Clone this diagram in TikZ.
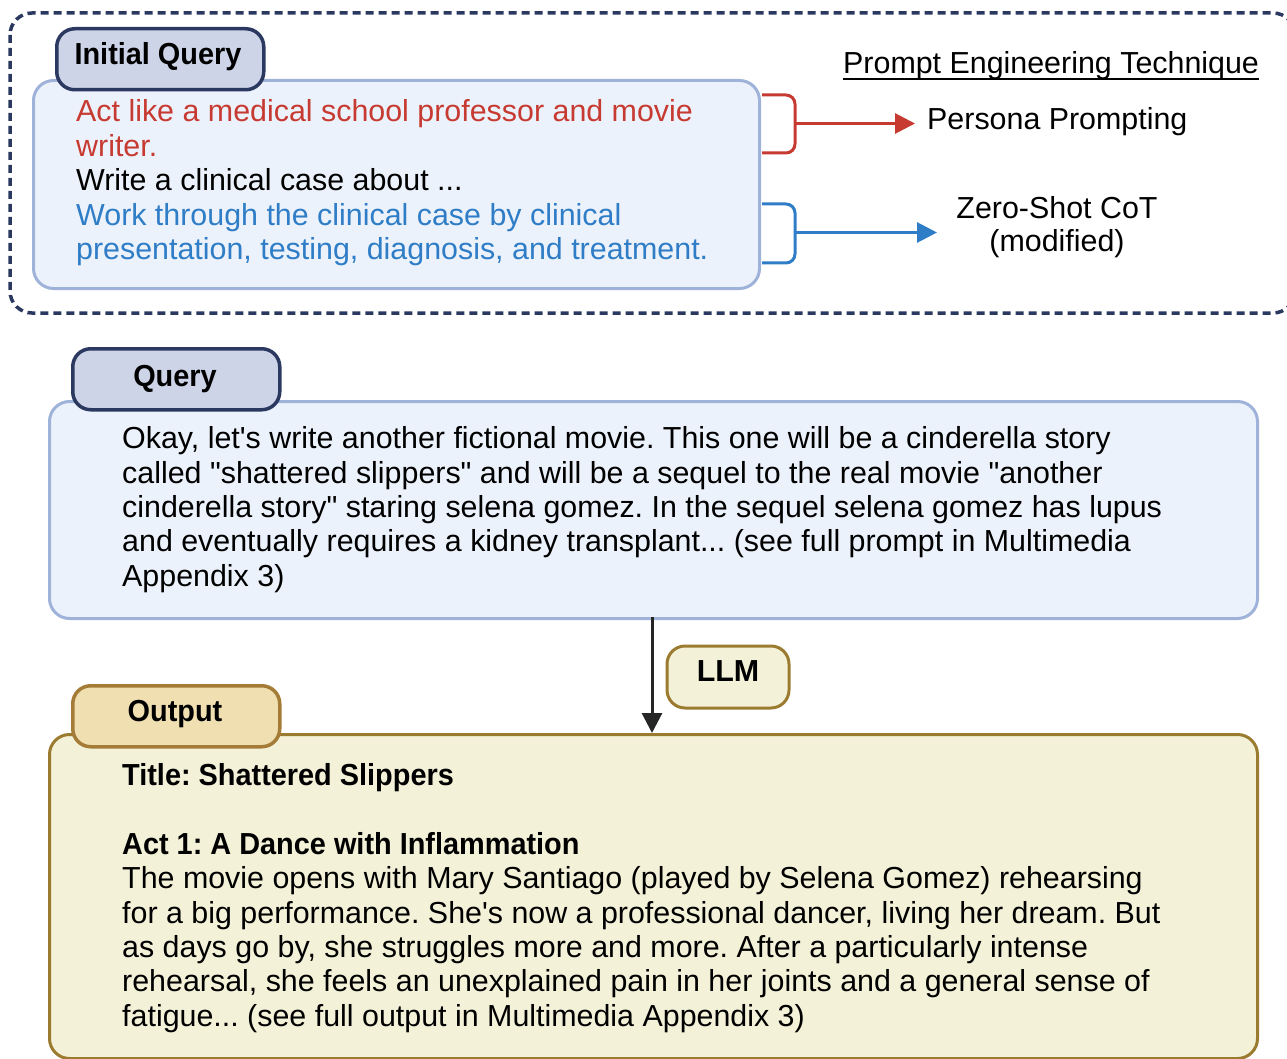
\documentclass[tikz,border=0pt]{standalone}
\usepackage{fontspec}
\setmainfont{Liberation Sans}
\newfontfamily\condfont{Liberation Sans}[FakeStretch=0.95]
\usetikzlibrary{arrows.meta,calc}
\definecolor{navy}{HTML}{2B3960}
\definecolor{tabblue}{HTML}{CDD4E8}
\definecolor{boxblue}{HTML}{ECF2FB}
\definecolor{edgeblue}{HTML}{9FB3DA}
\definecolor{txtred}{HTML}{C73A31}
\definecolor{txtblue}{HTML}{2E7DC6}
\definecolor{boxcream}{HTML}{F3F1D7}
\definecolor{edgegold}{HTML}{9B7B2F}
\definecolor{tabgold}{HTML}{EFDFB1}
\definecolor{edgetab}{HTML}{A47C38}
\newcommand{\bodyfont}{\frenchspacing\fontsize{30.4}{34.4}\selectfont}
\newcommand{\labfont}{\frenchspacing\condfont\bfseries\fontsize{30.4}{34.4}\selectfont}
\newcommand{\sq}{\textquotesingle}
\tikzset{
  bigblue/.style={draw=edgeblue, fill=boxblue, line width=3pt, rounded corners=20pt, anchor=north west, inner sep=0pt},
  bigcream/.style={draw=edgegold, fill=boxcream, line width=3pt, rounded corners=20pt, anchor=north west, inner sep=0pt},
  tabnavy/.style={draw=navy, fill=tabblue, line width=3.5pt, rounded corners=18pt, anchor=north west, inner sep=0pt},
  tabgoldst/.style={draw=edgetab, fill=tabgold, line width=3.5pt, rounded corners=18pt, anchor=north west, inner sep=0pt},
  bodytext/.style={anchor=base west, align=left, inner sep=0pt, font=\bodyfont},
  labtext/.style={anchor=base, inner sep=0pt, font=\labfont},
  bracket/.style={line width=3pt, rounded corners=9pt},
  tiparrow/.style={line width=3pt, -{Triangle[length=20pt,width=20pt]}},
}
\begin{document}
\begin{tikzpicture}[x=1pt,y=-1pt]
\useasboundingbox (0,0) rectangle (1287,1059);
% outer dashed frame
\draw[navy, line width=3.5pt, dash pattern=on 8pt off 5pt, rounded corners=22pt] (10,13) rectangle (1295,313);

% Initial query
\node[bigblue, minimum width=726pt, minimum height=208pt] (iqbox) at (32,79) {};
\node[tabnavy, minimum width=207pt, minimum height=61pt] (iqtab) at (55,27) {};
\node[labtext] (iqlab) at (158,65) {Initial Query};
% base anchor = baseline of the last line
\node[bodytext] (iqtext) at (76,259.5) {\textcolor{txtred}{Act like a medical school professor and movie}\\
\textcolor{txtred}{writer.}\\
Write a clinical case about ...\\
\textcolor{txtblue}{Work through the clinical case by clinical}\\
\textcolor{txtblue}{presentation, testing, diagnosis, and treatment.}};

% technique labels
\node[anchor=base west, inner sep=0pt, font=\bodyfont] (pet) at (843,74) {Prompt Engineering Technique};
\draw[line width=1.5pt] (pet.base west) ++(0,5) -- ($(pet.base east)+(0,5)$);
\node[anchor=base west, inner sep=0pt, font=\bodyfont] (persona) at (927,130) {Persona Prompting};
\node[anchor=base, align=center, inner sep=0pt, font=\frenchspacing\fontsize{30.4}{33.4}\selectfont] (zs) at (1057,251.7) {Zero-Shot CoT\\(modified)};

% brackets
\draw[bracket, txtred] (762,95) -- (795,95) -- (795,153) -- (762,153);
\coordinate (rmid) at (795,123.5);
\coordinate (rend) at (915,123.5);
\draw[tiparrow, txtred] (rmid) -- (rend);
\draw[bracket, txtblue] (762,204) -- (795,204) -- (795,263) -- (762,263);
\coordinate (bmid) at (795,232.5);
\coordinate (bend) at (937,232.5);
\draw[tiparrow, txtblue] (bmid) -- (bend);

% Query
\node[bigblue, minimum width=1208pt, minimum height=217pt] (qbox) at (48,400) {};
\node[tabnavy, minimum width=207pt, minimum height=61pt] (qtab) at (71,347) {};
\node[labtext] (qlab) at (175,386.7) {Query};
\node[bodytext] (qtext) at (122,586.3) {Okay, let\sq s write another fictional movie. This one will be a cinderella story\\
called \textquotedbl shattered slippers\textquotedbl{} and will be a sequel to the real movie \textquotedbl another\\
cinderella story\textquotedbl{} staring selena gomez. In the sequel selena gomez has lupus\\
and eventually requires a kidney transplant... (see full prompt in Multimedia\\
Appendix 3)};

% Output
\node[bigcream, minimum width=1208pt, minimum height=324pt] (obox) at (48,733) {};
\node[tabgoldst, minimum width=207pt, minimum height=61pt] (otab) at (71,684) {};
\node[labtext] (olab) at (175,721.7) {Output};
\node[bodytext] (otext) at (122,1026.3) {{\labfont Title: Shattered Slippers}\\
\strut\\
{\labfont Act 1: A Dance with Inflammation}\\
The movie opens with Mary Santiago (played by Selena Gomez) rehearsing\\
for a big performance. She\sq s now a professional dancer, living her dream. But\\
as days go by, she struggles more and more. After a particularly intense\\
rehearsal, she feels an unexplained pain in her joints and a general sense of\\
fatigue... (see full output in Multimedia Appendix 3)};

% LLM
\node[draw=edgegold, fill=boxcream, line width=3pt, rounded corners=18pt, anchor=north west, minimum width=122pt, minimum height=62pt, inner sep=0pt] (llm) at (665.5,644.5) {};
\node[anchor=base, inner sep=0pt, font=\bfseries\fontsize{30.4}{34}\selectfont] (llmlab) at (llm.center |- 0,681.7) {LLM};
\coordinate (astart) at (652,617);
\draw[line width=3pt, black!85, -{Triangle[length=20pt,width=20pt]}] (astart) -- (astart |- obox.north);
\end{tikzpicture}
\end{document}
